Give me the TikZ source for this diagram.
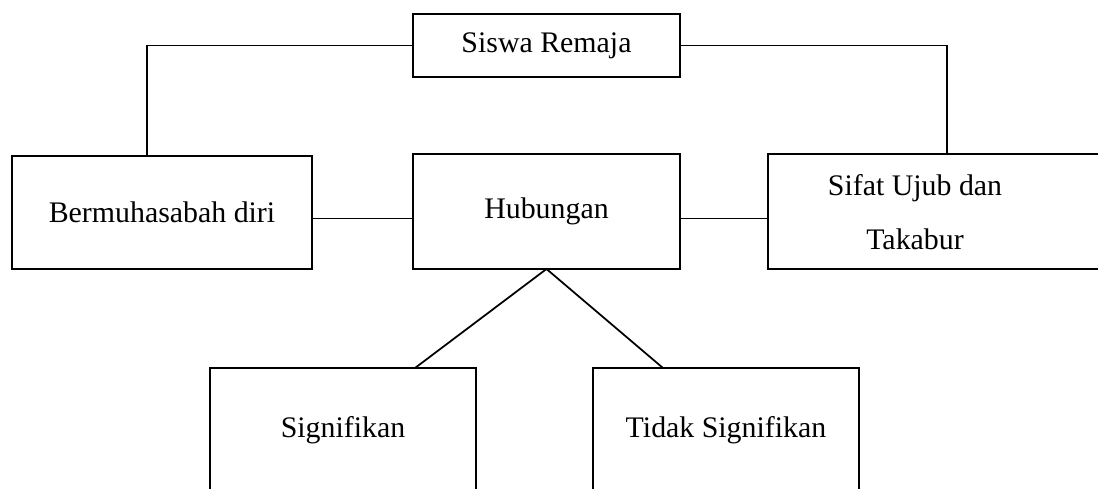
\documentclass[tikz,border=0pt]{standalone}
\usepackage{fontspec}
\setmainfont{Liberation Serif}
\usetikzlibrary{positioning,calc}

\begin{document}
\begin{tikzpicture}[x=0.02cm,y=-0.02cm,
        kotak/.style={draw,line width=1pt,inner sep=0pt,outer sep=0pt,align=center,font=\fontsize{17}{31}\selectfont},
        garis/.style={line width=1pt}]
        \useasboundingbox (0,0) rectangle (1098,489);
        \clip (0,0) rectangle (1098,489); % picture is cut at right and bottom
        \node[kotak,minimum width=5.34cm,minimum height=1.26cm] (siswa) at (546.5,45.5) {Siswa Remaja};
        \node[kotak,minimum width=6cm,minimum height=2.26cm] (muhasabah) at (162,212.5) {Bermuhasabah diri};
        \node[kotak,minimum width=5.34cm,minimum height=2.3cm] (hubungan) at (546.5,211.5) {Hubungan};
        \node[kotak,minimum width=7.16cm,minimum height=2.3cm] (sifat) at (947,211.5) {};
        \node[kotak,draw=none] (sifattxt) at (915,212) {Sifat Ujub dan\\Takabur};
        \node[kotak,minimum width=5.32cm,minimum height=2.48cm] (sig) at (343,430) {Signifikan};
        \node[kotak,minimum width=5.32cm,minimum height=2.48cm] (tidak) at (726,430) {Tidak Signifikan};
        \draw[garis] (siswa.west) -| ($(muhasabah.north)+(-15,0)$);
        \draw[garis] (siswa.east) -| (sifat.north);
        \draw[garis] ([yshift=-0.14cm]hubungan.west) -- ([yshift=-0.14cm]hubungan.west -| muhasabah.east);
        \draw[garis] ([yshift=-0.14cm]hubungan.east) -- ([yshift=-0.14cm]sifat.west);
        \draw[garis] ($(sig.north)+(72,0)$) -- (hubungan.south) -- ($(tidak.north)+(-63,0)$);
    \end{tikzpicture}
\end{document}
